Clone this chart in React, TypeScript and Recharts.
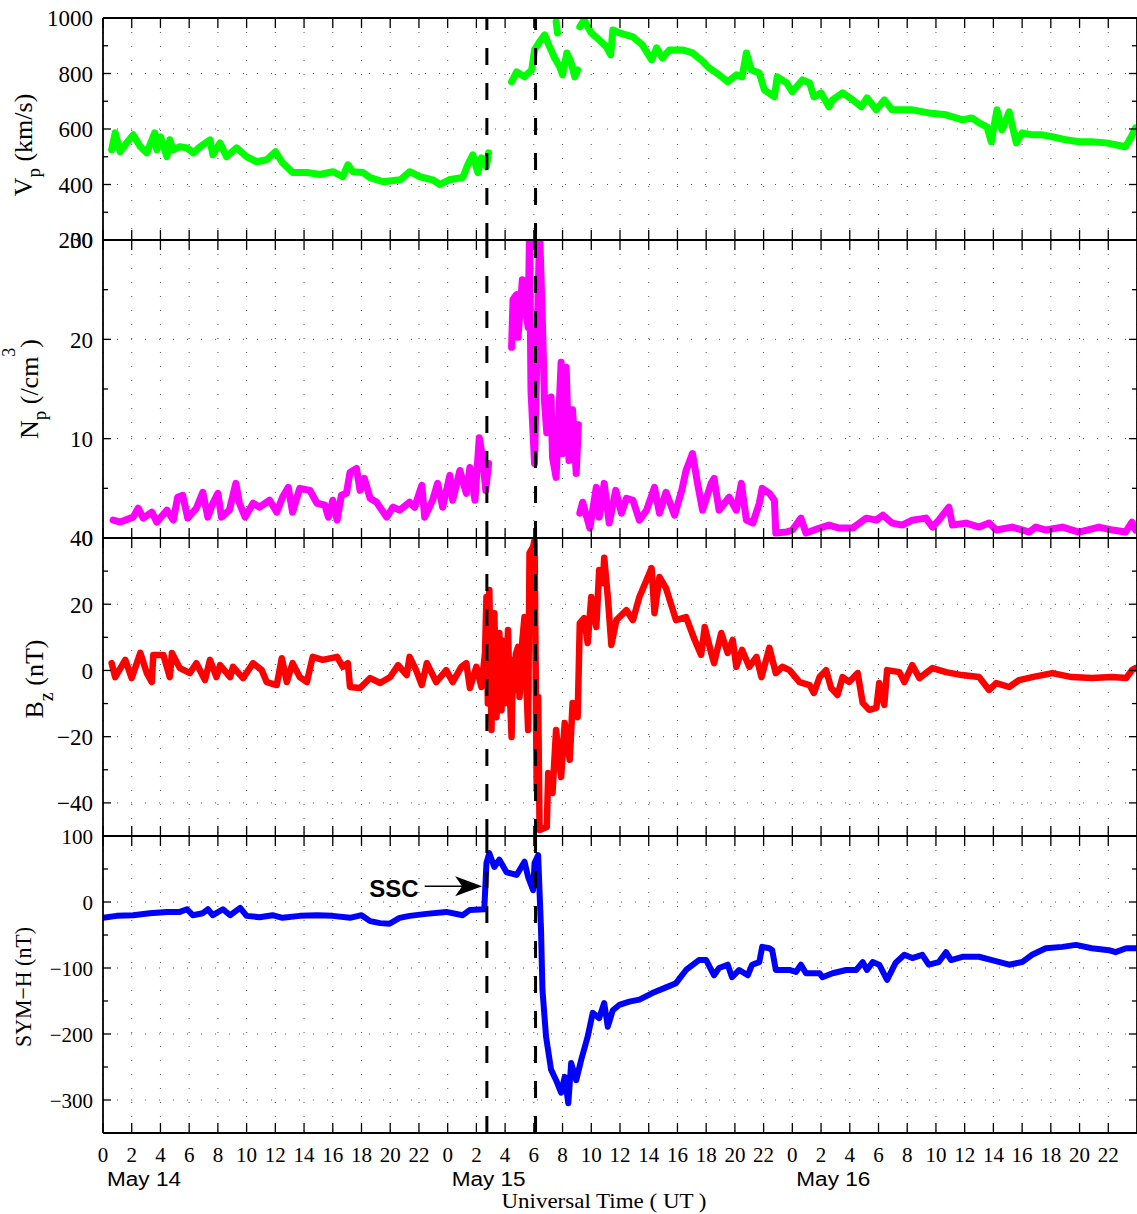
import React from 'react';
import { LineChart, Line, XAxis, YAxis, CartesianGrid, ReferenceLine } from 'recharts';

const W = 1137;
const CHART_W = 1138;
const PLOT_LEFT = 103;
const PLOT_W = CHART_W - PLOT_LEFT - 1;
const PAD = 14;
const SERIF = '"Liberation Serif", "Times New Roman", serif';
const SANS = '"Liberation Sans", Arial, sans-serif';

// hours after 00 UT, 14 May
const hourTicks = [0, 2, 4, 6, 8, 10, 12, 14, 16, 18, 20, 22, 24, 26, 28, 30, 32, 34, 36, 38, 40, 42, 44, 46, 48, 50, 52, 54, 56, 58, 60, 62, 64, 66, 68, 70];
const dayLabels = ['May 14', 'May 15', 'May 16'];
const dayStarts = [0, 24, 48];
const sscHours = [26.73, 30.12];

// solar wind speed (km/s), null = data gap
const vpHours = [
  0.6, 0.85, 1.2, 1.65, 2.1, 2.6, 3.05, 3.6, 3.75, 4.0, 4.45, 4.65, 4.9, 5.35, 5.85, 6.3, 6.75, 7.45, 7.65, 8.15,
  8.6, 9.3, 10.0, 10.7, 11.4, 12.0, 12.5, 13.2, 14.2, 15.1, 16.0, 16.7, 17.05, 17.4, 18.1, 18.6, 19.5, 20.7, 21.35, 22.05,
  22.95, 23.45, 24.1, 25.05, 25.4, 25.75, 26.1, 26.35, 26.7, 26.85, 27.5,
  28.45, 28.8, 29.35, 29.85, 30.05, 30.4, 30.75, 31.1, 31.45, 31.8, 32.0, 32.3, 32.6, 32.85, 33.05, 33.1,
  31.55, 31.65, 31.7,
  33.2, 33.5, 34.0, 34.55, 35.05, 35.35, 35.5, 35.95, 36.9, 37.55, 38.2, 38.55, 38.95, 39.45, 40.35, 41.05, 41.65, 42.2,
  42.9, 43.5, 44.1, 44.5, 44.8, 45.15, 45.7, 46.05, 46.75, 46.95, 47.6, 48.0, 48.7, 49.2, 49.5, 50.0, 50.55, 50.8, 51.5,
  52.2, 52.8, 53.2, 53.85, 54.4, 54.95, 56.35, 57.5, 58.7, 59.85, 60.5, 61.0, 61.55, 61.85, 62.25, 62.6, 63.1, 63.3, 63.6,
  64.0, 64.7, 65.4, 66.1, 67.05, 67.95, 68.85, 69.85, 71.2, 71.6, 71.9,
];
const vpValues = [
  525, 586, 518, 550, 579, 536, 514, 586, 525, 572, 500, 561, 525, 536, 532, 514, 536, 561, 507, 550,
  500, 532, 500, 482, 489, 518, 478, 443, 443, 436, 446, 428, 471, 446, 443, 425, 410, 417, 446, 428,
  417, 400, 417, 425, 471, 507, 443, 496, 464, 514, null,
  770, 806, 788, 813, 885, 914, 939, 896, 856, 824, 795, 874, 838, 788, 813, null,
  986, 946, null,
  968, 993, 946, 921, 896, 867, 957, 946, 932, 903, 849, 892, 856, 885, 885, 874, 849, 820,
  795, 770, 795, 788, 874, 813, 802, 741, 716, 788, 766, 734, 777, 766, 716, 730, 680, 705, 730,
  705, 680, 712, 669, 705, 669, 669, 658, 651, 633, 640, 622, 608, 554, 669, 597, 662, 615, 550,
  586, 579, 579, 572, 561, 554, 554, 550, 536, 572, 604,
];

// proton density (/cm^3)
const npHours = [
  0.7, 1.2, 2.1, 2.45, 2.8, 3.4, 3.75, 4.45, 4.9, 5.2, 5.55, 5.9, 6.5, 6.95, 7.3, 7.65, 8.0, 8.25, 8.8, 9.25,
  9.5, 9.9, 10.45, 10.9, 11.6, 12.1, 12.5, 12.9, 13.2, 13.7, 14.4, 14.9, 15.45, 15.7, 16.0, 16.3, 16.6, 16.95, 17.2, 17.65,
  17.9, 18.2, 18.6, 19.05, 19.75, 20.2, 20.65, 21.35, 21.7, 22.2, 22.4, 22.95, 23.3, 23.65, 24.15, 24.35, 24.85, 25.3, 25.55, 25.9,
  26.2, 26.45, 26.65, 26.85, 27.5,
  28.45, 28.55, 28.8, 28.9, 29.2, 29.35, 29.6, 29.7, 29.8, 30.05, 30.4, 30.6, 30.75, 30.9, 31.2, 31.3, 31.55, 31.9, 32.0, 32.25,
  32.45, 32.7, 32.95, 33.1, 33.15,
  33.2, 33.4, 33.9, 34.35, 34.55, 34.9, 35.25, 35.7, 36.1, 36.45, 36.9, 37.35, 37.85, 38.4, 38.75, 39.2, 39.8, 40.3, 40.6, 41.05,
  41.4, 41.75, 42.35, 42.55, 42.9, 43.6, 44.1, 44.45, 44.8, 45.25, 45.7, 45.9, 46.4, 46.75, 46.85, 47.6, 48.0, 48.6, 48.95, 49.9,
  50.55, 51.25, 52.2, 53.15, 53.85, 54.3, 54.95, 55.65, 56.35, 57.3, 57.75, 58.2, 58.9, 59.15, 60.1, 61.0, 61.7, 62.2, 63.3, 64.5,
  64.95, 65.65, 66.8, 67.95, 69.35, 70.3, 71.2, 71.65, 71.9,
];
const npValues = [
  1.8, 1.6, 2.1, 3.0, 2.0, 2.6, 1.6, 2.8, 1.8, 4.1, 4.3, 2.0, 3.0, 4.6, 2.1, 3.5, 4.5, 2.1, 2.8, 5.5,
  3.5, 2.1, 3.5, 3.1, 3.8, 2.6, 4.1, 5.1, 2.6, 5.0, 4.8, 3.5, 3.3, 2.1, 3.8, 1.8, 4.3, 4.5, 6.6, 7.0,
  4.8, 6.0, 4.0, 3.6, 2.1, 3.1, 2.8, 3.6, 3.1, 5.3, 2.1, 3.8, 5.5, 3.1, 6.3, 3.8, 6.8, 4.5, 7.1, 3.8,
  10.1, 7.9, 4.8, 7.5, null,
  19.2, 24.0, 24.5, 20.2, 26.0, 24.0, 21.2, 31, 14.9, 7.5, 31, 21.6, 13.6, 10.6, 14.2, 8.1, 6.1, 17.7, 8.5, 17.2,
  7.8, 12.9, 6.5, 11.4, null,
  2.5, 3.6, 1.0, 5.1, 2.1, 5.5, 1.5, 4.8, 2.5, 4.0, 3.8, 1.8, 2.8, 5.1, 2.5, 4.6, 2.3, 4.8, 6.8, 8.5,
  5.5, 2.8, 5.5, 6.0, 2.8, 4.1, 2.8, 5.5, 1.8, 1.5, 3.5, 5.0, 4.5, 3.8, 0.5, 0.6, 0.8, 2.0, 0.5, 1.0,
  1.3, 1.0, 1.0, 2.0, 1.8, 2.3, 1.5, 1.3, 1.8, 2.0, 1.1, 1.8, 3.1, 1.3, 1.5, 1.1, 1.5, 0.8, 1.1, 0.6,
  1.1, 0.8, 1.1, 0.6, 1.1, 0.8, 0.6, 1.6, 0.8,
];

// IMF Bz (nT)
const bzHours = [
  0.6, 0.85, 1.55, 2.0, 2.6, 3.05, 3.4, 3.5, 4.2, 4.65, 4.8, 5.35, 6.05, 6.5, 7.1, 7.45, 7.9, 8.15, 8.85, 9.05,
  9.75, 10.45, 11.05, 11.4, 12.1, 12.45, 12.8, 13.2, 13.7, 14.2, 14.6, 15.3, 16.3, 16.7, 17.05, 17.2, 17.9, 18.6, 19.3, 20.0,
  20.55, 21.15, 21.35, 21.8, 22.2, 22.55, 23.2, 23.9, 24.35, 24.95, 25.3, 25.55, 26.0, 26.35, 26.6, 26.7, 26.8, 26.9, 27.0, 27.05,
  27.15, 27.25, 27.35, 27.4, 27.5, 27.6, 27.7, 27.75, 27.85, 27.95, 28.05, 28.1, 28.2, 28.3, 28.45, 28.55, 28.65, 28.75, 28.9, 29.0,
  29.1, 29.2, 29.35, 29.45, 29.6, 29.7, 29.95, 30.05, 30.2, 30.3, 30.4, 30.9, 31.0, 31.3, 31.55, 31.9, 32.15, 32.5, 32.7, 33.05,
  33.2, 33.5, 33.75, 34.0, 34.35, 34.55, 34.8, 34.9, 35.15, 35.4, 35.75, 36.45, 36.9, 37.35, 37.85, 38.2, 38.4, 38.75, 39.2, 39.9,
  40.6, 41.2, 41.65, 41.9, 42.35, 42.55, 43.05, 43.5, 43.85, 44.1, 44.5, 45.0, 45.5, 45.85, 46.4, 46.85, 47.3, 47.8, 48.5, 49.2,
  49.5, 49.9, 50.35, 50.7, 51.15, 51.5, 51.95, 52.55, 52.9, 53.35, 53.85, 54.05, 54.4, 54.6, 55.45, 55.8, 56.35, 56.85, 57.75, 58.7,
  59.8, 61.0, 61.7, 62.2, 63.1, 63.8, 64.7, 66.1, 67.45, 68.85, 70.25, 71.25, 71.65, 71.9,
];
const bzValues = [
  2.2, -2.0, 3.2, -2.3, 5.3, -0.8, -3.5, 4.7, 4.7, -2.0, 5.3, 0.7, -0.8, 2.2, -2.9, 3.2, -2.0, 1.6, -2.0, 1.1,
  -2.3, 2.2, 0.1, -3.5, -4.4, 3.7, -3.5, 2.2, -2.0, -3.5, 4.1, 3.2, 4.1, 1.1, 2.2, -5.0, -5.3, -2.3, -3.8, -2.0,
  1.6, -1.4, 4.1, 0.1, -4.4, 2.2, -3.5, 0.1, -3.5, 1.1, 2.2, -5.3, 1.1, -5.0, 5.3, 22.2, -10, 24.3, -5, -18.0,
  8, 17.3, -3, -14.1, 6, 11.3, -4, -12.0, 9, 4.1, -6, -9.8, 12.2, -4, -20.1, 3.2, -6, 5, 7.1, -8,
  -2.9, 9, 16.1, 0, -18.0, 35.5, 37.3, 39.4, -36.1, -8.0, -48.2, -47.3, -31.0, -37.0, -18.0, -32.2, -15.9, -27.0, -9.8, -14.1,
  14.3, 15.8, 8.3, 22.2, 13.1, 30.3, 26.4, 34.0, 22.2, 7.7, 15.2, 18.2, 15.2, 22.2, 27.3, 30.9, 17.3, 28.2, 24.9, 15.2,
  16.1, 9.2, 4.7, 13.1, 5.3, 2.2, 11.3, 5.3, 9.2, 1.1, 6.2, 1.1, 4.1, -2.0, 6.8, -0.8, 1.1, 0.1, -3.5, -4.4,
  -6.8, -2.0, 0.1, -5.3, -7.4, -2.0, -3.5, -0.8, -9.8, -11.9, -11.3, -3.8, -10.4, 0.1, -0.5, -3.5, 1.6, -2.3, 0.7, -0.5,
  -1.4, -2.0, -5.9, -3.8, -5.0, -2.9, -2.0, -0.8, -2.0, -2.3, -2.0, -2.3, 0.1, 0.7,
];

// SYM-H index (nT)
const symHours = [
  0.0, 0.95, 2.1, 3.25, 4.45, 5.35, 5.85, 6.25, 6.95, 7.3, 7.65, 8.35, 8.85, 9.55, 10.0, 10.9, 11.8, 12.5, 13.7, 14.9,
  16.0, 17.2, 18.0, 18.6, 19.3, 19.95, 20.65, 21.35, 22.5, 23.9, 25.05, 25.55, 26.55, 26.7, 26.9, 27.25, 27.6, 28.1, 28.8, 29.35,
  29.6, 29.95, 30.05, 30.3, 30.5, 30.6, 30.85, 31.2, 31.55, 31.9, 32.15, 32.4, 32.6, 32.95, 33.3, 33.75, 34.1, 34.55, 34.9, 35.15,
  35.5, 35.95, 36.65, 37.35, 38.25, 39.25, 39.9, 40.6, 41.5, 42.0, 42.55, 42.9, 43.5, 43.8, 44.3, 44.9, 45.2, 45.7, 45.9, 46.4,
  46.6, 46.85, 47.8, 48.25, 48.6, 48.95, 49.9, 50.1, 50.8, 51.75, 52.45, 52.9, 53.2, 53.6, 54.05, 54.5, 54.6, 55.2, 55.8, 56.35,
  57.05, 57.5, 58.2, 58.7, 59.05, 59.85, 61.0, 61.9, 63.1, 64.0, 64.7, 65.65, 66.8, 67.75, 68.85, 70.05, 70.5, 71.25, 71.9,
];
const symValues = [
  -24, -21, -20, -17, -15, -15, -11, -20, -17, -11, -20, -11, -20, -9, -21, -23, -20, -24, -21, -20,
  -21, -24, -20, -29, -32, -33, -24, -21, -18, -15, -20, -12, -11, 59, 74, 53, 64, 45, 41, 61,
  38, 18, 59, 71, -42, -133, -204, -254, -270, -289, -265, -305, -244, -270, -239, -204, -168, -176, -153, -189,
  -164, -156, -151, -148, -138, -129, -123, -103, -88, -88, -111, -100, -95, -114, -103, -111, -95, -91, -68, -70,
  -73, -103, -103, -106, -95, -108, -108, -114, -108, -103, -103, -91, -103, -91, -95, -114, -118, -92, -80, -85,
  -80, -95, -91, -76, -88, -83, -83, -88, -95, -91, -80, -70, -68, -65, -70, -73, -76, -70, -70,
];

const toRows = (hours: number[], vals: (number | null)[]) => hours.map((t, i) => ({ t, v: vals[i] }));

const fmt = (n: number) => (n < 0 ? '\u2212' + Math.abs(n) : String(n));

function YTick(props: any) {
  const { x, y, payload, side, major, font } = props;
  const isMajor = major.includes(payload.value);
  const len = isMajor ? 8 : 5;
  return (
    <g>
      <line x1={x} x2={x + side * len} y1={y} y2={y} stroke="#000" strokeWidth={1.3} />
      {side === 1 && isMajor && (
        <text x={x - 10} y={y} dy="0.36em" textAnchor="end" fontFamily={SERIF} fontSize={font} fill="#000">
          {fmt(payload.value)}
        </text>
      )}
    </g>
  );
}

function HourTick(props: any) {
  const { x, y, payload, dir, showLabel } = props;
  return (
    <g>
      <line x1={x} x2={x} y1={y} y2={y + dir * 10} stroke="#000" strokeWidth={1.3} />
      {showLabel && (
        <text x={x} y={y + 29} textAnchor="middle" fontFamily={SERIF} fontSize={21} fill="#000">
          {payload.value % 24}
        </text>
      )}
    </g>
  );
}

function SscArrow(props: any) {
  const { x1, y1, x2, y2 } = props;
  return (
    <g>
      <line x1={x1} y1={y1} x2={x2 - 16} y2={y2} stroke="#000" strokeWidth={1.5} />
      <polygon points={`${x2},${y2} ${x2 - 27},${y2 - 10} ${x2 - 20},${y2} ${x2 - 27},${y2 + 10}`} fill="#000" />
      <text x={x1 - 6} y={y1 + 11} textAnchor="end" fontFamily={SANS} fontWeight="bold" fontSize={24} fill="#000">
        SSC
      </text>
    </g>
  );
}

interface PanelProps {
  top: number;
  height: number;
  bottomPad: number;
  rows: { t: number; v: number | null }[];
  color: string;
  lineWidth: number;
  domain: [number, number];
  major: number[];
  minor: number[];
  tickFont: number;
  xLabels?: boolean;
  children?: React.ReactNode;
}

const Panel = ({ top, height, bottomPad, rows, color, lineWidth, domain, major, minor, tickFont, xLabels, children }: PanelProps) => {
  const yTicks = [...major, ...minor].sort((a, b) => a - b);
  const gridValues = major.filter((m) => m > domain[0] && m < domain[1]);
  return (
    <div style={{ position: 'absolute', left: 0, top: top - PAD }}>
      <LineChart
        width={CHART_W}
        height={height + PAD + bottomPad}
        data={rows}
        margin={{ top: PAD - 1, right: 0, bottom: bottomPad - 1, left: 0 }}
      >
        <CartesianGrid xAxisId="b" yAxisId="l" horizontal={false} stroke="#555" strokeDasharray="1 13" />
        <XAxis
          xAxisId="b"
          type="number"
          dataKey="t"
          domain={[0, 72]}
          allowDataOverflow
          ticks={hourTicks}
          interval={0}
          height={1}
          tickSize={0}
          tickMargin={0}
          tickLine={false}
          axisLine={{ stroke: '#000', strokeWidth: 1.8 }}
          tick={(p: any) => <HourTick {...p} dir={-1} showLabel={!!xLabels} />}
        />
        <XAxis
          xAxisId="t"
          orientation="top"
          type="number"
          dataKey="t"
          domain={[0, 72]}
          allowDataOverflow
          ticks={hourTicks}
          interval={0}
          height={1}
          tickSize={0}
          tickMargin={0}
          tickLine={false}
          axisLine={{ stroke: '#000', strokeWidth: 1.8 }}
          tick={(p: any) => <HourTick {...p} dir={1} showLabel={false} />}
        />
        <YAxis
          yAxisId="l"
          type="number"
          domain={domain}
          allowDataOverflow
          ticks={yTicks}
          interval={0}
          width={PLOT_LEFT}
          tickSize={0}
          tickMargin={0}
          tickLine={false}
          axisLine={{ stroke: '#000', strokeWidth: 1.8 }}
          tick={(p: any) => <YTick {...p} side={1} major={major} font={tickFont} />}
        />
        <YAxis
          yAxisId="r"
          orientation="right"
          type="number"
          domain={domain}
          allowDataOverflow
          ticks={yTicks}
          interval={0}
          width={1}
          tickSize={0}
          tickMargin={0}
          tickLine={false}
          axisLine={{ stroke: '#000', strokeWidth: 1.8 }}
          tick={(p: any) => <YTick {...p} side={-1} major={major} font={tickFont} />}
        />
        {gridValues.map((g) => (
          <ReferenceLine key={`g${g}`} xAxisId="b" yAxisId="l" y={g} stroke="#555" strokeDasharray="1 13" />
        ))}
        <Line
          xAxisId="b"
          yAxisId="l"
          dataKey="v"
          stroke={color}
          strokeWidth={lineWidth}
          strokeLinejoin="round"
          strokeLinecap="round"
          dot={false}
          connectNulls={false}
          isAnimationActive={false}
        />
        {sscHours.map((h) => (
          <ReferenceLine key={`s${h}`} xAxisId="b" yAxisId="l" x={h} stroke="#000" strokeWidth={3} strokeDasharray="17 18" />
        ))}
        {children}
      </LineChart>
    </div>
  );
};

const dayX = (h: number) => PLOT_LEFT + (h / 72) * PLOT_W + 4;

export default function App() {
  return (
    <div style={{ position: 'absolute', left: 0, top: 0, width: W, height: 1214, background: '#fff', overflow: 'hidden' }}>
      <Panel top={18} height={222} bottomPad={PAD} rows={toRows(vpHours, vpValues)} color="#00ff00" lineWidth={7}
        domain={[200, 1000]} major={[200, 400, 600, 800, 1000]} minor={[300, 500, 700, 900]} tickFont={23} />
      <Panel top={240} height={298} bottomPad={PAD} rows={toRows(npHours, npValues)} color="#ff00ff" lineWidth={7}
        domain={[0, 30]} major={[0, 10, 20, 30]} minor={[5, 15, 25]} tickFont={23} />
      <Panel top={538} height={298} bottomPad={PAD} rows={toRows(bzHours, bzValues)} color="#ff0000" lineWidth={6.5}
        domain={[-50, 40]} major={[-40, -20, 0, 20, 40]} minor={[-30, -10, 10, 30]} tickFont={23} />
      <Panel top={836} height={297} bottomPad={81} rows={toRows(symHours, symValues)} color="#0000ff" lineWidth={6}
        domain={[-350, 100]} major={[-300, -200, -100, 0, 100]} minor={[-250, -150, -50, 50]} tickFont={21} xLabels>
        <ReferenceLine xAxisId="b" yAxisId="l" segment={[{ x: 22.4, y: 24 }, { x: 26.4, y: 24 }]} shape={SscArrow} />
      </Panel>
      <svg width={W} height={1214} style={{ position: 'absolute', left: 0, top: 0, pointerEvents: 'none' }}>
        <text transform="translate(32,145) rotate(-90)" textAnchor="middle" fontFamily={SERIF} fontSize={26} fill="#000">
          V<tspan dy={8} fontSize={19}>p</tspan>
          <tspan dy={-8}> (km/s)</tspan>
        </text>
        <text transform="translate(38,389) rotate(-90)" textAnchor="middle" fontFamily={SERIF} fontSize={26} fill="#000">
          N<tspan dy={8} fontSize={19}>p</tspan>
          <tspan dy={-8}> (/cm</tspan>
          <tspan dy={-23} fontSize={18}>3</tspan>
          <tspan dy={23}>)</tspan>
        </text>
        <text transform="translate(43,679) rotate(-90)" textAnchor="middle" fontFamily={SERIF} fontSize={26} fill="#000">
          B<tspan dy={10} fontSize={20}>z</tspan>
          <tspan dy={-10}> (nT)</tspan>
        </text>
        <text transform="translate(31,987) rotate(-90)" textAnchor="middle" fontFamily={SERIF} fontSize={24}
          textLength={120} lengthAdjust="spacingAndGlyphs" fill="#000">
          SYM{'\u2212'}H (nT)
        </text>
        {dayLabels.map((d, i) => (
          <text key={d} x={dayX(dayStarts[i])} y={1186} fontFamily={SANS} fontSize={20} textLength={74}
            lengthAdjust="spacingAndGlyphs" fill="#000">
            {d}
          </text>
        ))}
        <text x={604} y={1208} textAnchor="middle" fontFamily={SERIF} fontSize={21} textLength={205}
          lengthAdjust="spacingAndGlyphs" fill="#000">
          Universal Time ( UT )
        </text>
      </svg>
    </div>
  );
}
